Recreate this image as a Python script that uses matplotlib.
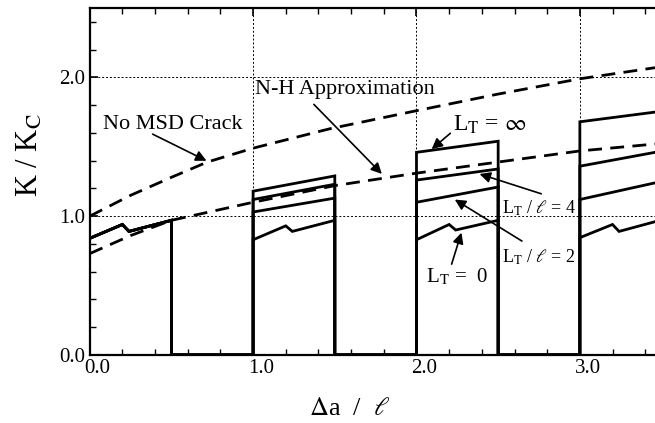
import matplotlib
matplotlib.use("Agg")
import matplotlib.pyplot as plt
import matplotlib.transforms as mtransforms
from matplotlib.ticker import MultipleLocator, FormatStrFormatter

plt.rcParams['font.family'] = ['Liberation Serif', 'DejaVu Serif']
plt.rcParams['mathtext.fontset'] = 'stix'

# dashed reference curves
x_nomsd = [0.0, 0.25, 0.5, 0.72, 1.0, 1.47, 2.0, 2.5, 3.0, 3.46]
k_nomsd = [1.0, 1.15, 1.28, 1.39, 1.49, 1.63, 1.76, 1.88, 1.99, 2.07]

x_nh = [0.0, 0.25, 0.5, 1.0, 1.5, 2.0, 2.5, 3.0, 3.46]
k_nh = [0.73, 0.86, 0.97, 1.10, 1.22, 1.31, 1.39, 1.47, 1.52]

# stepped solid curves (drop to zero between ligaments)
x_step = [0.0, 0.2, 0.24, 0.5, 0.5, 1.0, 1.0, 1.5, 1.5, 2.0, 2.0, 2.5, 2.5, 3.0, 3.0, 3.46]
x_kink = [0.0, 0.2, 0.24, 0.5, 0.5, 1.0, 1.0, 1.2, 1.24, 1.5, 1.5, 2.0, 2.0, 2.2, 2.24, 2.5, 2.5,
          3.0, 3.0, 3.2, 3.24, 3.46]
k_inf = [0.84, 0.94, 0.89, 0.97, 0, 0, 1.18, 1.29, 0, 0, 1.46, 1.54, 0, 0, 1.68, 1.75]
k_lt4 = [0.84, 0.94, 0.89, 0.97, 0, 0, 1.12, 1.23, 0, 0, 1.26, 1.34, 0, 0, 1.36, 1.46]
k_lt2 = [0.84, 0.94, 0.89, 0.97, 0, 0, 1.03, 1.13, 0, 0, 1.10, 1.21, 0, 0, 1.12, 1.24]
k_lt0 = [0.84, 0.94, 0.89, 0.97, 0, 0, 0.83, 0.93, 0.89, 0.97, 0, 0, 0.83, 0.94, 0.90, 0.97, 0,
         0, 0.845, 0.94, 0.89, 0.96]

fig = plt.figure(figsize=(6.55, 4.23), dpi=100)
ax = fig.add_axes([0.137, 0.161, 0.863, 0.820])

for k in [k_inf, k_lt4, k_lt2]:
    ax.plot(x_step, k, color='black', lw=2.0, solid_joinstyle='miter')
ax.plot(x_kink, k_lt0, color='black', lw=2.0, solid_joinstyle='miter')

ax.plot(x_nomsd, k_nomsd, color='black', lw=2.0, dashes=(5, 3))
ax.plot(x_nh, k_nh, color='black', lw=2.0, dashes=(5, 3))

ax.set_xlim(0, 3.46)
ax.set_ylim(0, 2.5)
ax.xaxis.set_major_locator(MultipleLocator(1.0))
ax.xaxis.set_minor_locator(MultipleLocator(0.2))
ax.yaxis.set_major_locator(MultipleLocator(1.0))
ax.yaxis.set_minor_locator(MultipleLocator(0.2))
ax.xaxis.set_major_formatter(FormatStrFormatter('%.1f'))
ax.yaxis.set_major_formatter(FormatStrFormatter('%.1f'))
ax.tick_params(which='both', direction='in', top=True, right=False, labelsize=15, pad=3)
ax.tick_params(which='major', length=6, width=1.2)
ax.tick_params(which='minor', length=4, width=1.0)
ax.grid(True, which='major', ls=(0, (2, 2)), lw=0.7, color='black')
for s in ['left', 'bottom', 'top']:
    ax.spines[s].set_linewidth(1.6)
ax.spines['right'].set_visible(False)

# x tick labels sit a little right of their ticks in the original
shift = mtransforms.ScaledTranslation(8 / 100, 0, fig.dpi_scale_trans)
for lab in ax.get_xticklabels():
    lab.set_transform(lab.get_transform() + shift)

ax.set_xlabel(r"$\Delta$a  /  $\ell$", fontsize=19)
ax.xaxis.set_label_coords(0.46, -0.125)
ax.set_ylabel(r"K / K$_\mathrm{C}$", fontsize=22)
ax.yaxis.set_label_coords(-0.08, 0.575)

arrow = dict(arrowstyle='-|>', color='black', lw=1.2, mutation_scale=16)
labels = [
    ("No MSD Crack", (0.51, 1.66), (0.37, 1.60), (0.73, 1.39), 16),
    ("N-H Approximation", (1.56, 1.91), (1.36, 1.82), (1.80, 1.29), 16),
    (r"L$_\mathrm{T}$ = $\infty$", (2.45, 1.66), (2.22, 1.61), (2.08, 1.47), 17),
    (r"L$_\mathrm{T}$ / $\ell$ = 4", (2.75, 1.06), (2.78, 1.155), (2.37, 1.31), 13),
    (r"L$_\mathrm{T}$ / $\ell$ = 2", (2.75, 0.70), (2.66, 0.81), (2.22, 1.13), 13),
    (r"L$_\mathrm{T}$ =  0", (2.25, 0.56), (2.21, 0.635), (2.28, 0.90), 15),
]
for txt, pos, tail, tip, fs in labels:
    ax.text(pos[0], pos[1], txt, fontsize=fs, ha='center', va='center')
    ax.annotate("", xy=tip, xytext=tail, arrowprops=arrow)

fig.savefig("out.png", dpi=100)
